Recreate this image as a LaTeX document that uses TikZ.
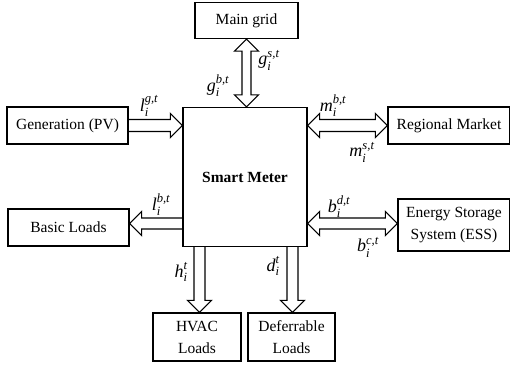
\documentclass[tikz,border=0pt]{standalone}
\usepackage{amsmath}
\usepackage{fontspec}
\setmainfont{Liberation Serif}
\usetikzlibrary{calc}
\newcommand\lbl[3]{$\textit{#1}_{\textit{#2}}^{\textit{#3}}$}
% hollow block arrow from #1 to #2, shaft half width #3
\newcommand\harrow[3]{%
  \path coordinate (hb) at ($(#2)!12pt!(#1)$);
  \draw[arr] ($(#1)!#3!90:(#2)$) -- ($(hb)!#3!90:(#2)$) -- ($(hb)!12pt!90:(#2)$) -- (#2)
    -- ($(hb)!12pt!-90:(#2)$) -- ($(hb)!#3!-90:(#2)$) -- ($(#1)!#3!-90:(#2)$);}
% hollow double-headed block arrow between #1 and #2
\newcommand\hdarrow[3]{%
  \path coordinate (hb) at ($(#2)!12pt!(#1)$) coordinate (ha) at ($(#1)!12pt!(#2)$);
  \draw[arr] ($(ha)!#3!90:(#2)$) -- ($(hb)!#3!90:(#2)$) -- ($(hb)!12pt!90:(#2)$) -- (#2)
    -- ($(hb)!12pt!-90:(#2)$) -- ($(hb)!#3!-90:(#2)$) -- ($(ha)!#3!-90:(#2)$)
    -- ($(ha)!12pt!-90:(#2)$) -- (#1) -- ($(ha)!12pt!90:(#2)$) -- cycle;}
\begin{document}
\begin{tikzpicture}[x=1pt,y=-1pt,
  box/.style={draw, line width=1.2pt, inner sep=0pt, align=center,
    font=\fontsize{15.5}{22}\selectfont},
  arr/.style={draw, line width=1.1pt, line join=miter},
  lab/.style={inner sep=0pt, font=\fontsize{18}{20}\selectfont}]
\useasboundingbox (0,0) rectangle (510,370);
\node[box, minimum width=103pt, minimum height=36pt] (main) at (246.5,20.5) {Main grid};
\node[box, minimum width=124pt, minimum height=139pt, font=\fontsize{15.5}{17}\selectfont\bfseries] (sm) at (245,177) {Smart Meter};
\node[box, minimum width=121pt, minimum height=37pt] (gen) at (67.5,125.5) {Generation (PV)};
\node[box, minimum width=122pt, minimum height=37pt] (rm) at (449,125.5) {Regional Market};
\node[box, minimum width=121pt, minimum height=37pt] (bl) at (68.5,227.5) {Basic Loads};
\node[box, minimum width=112pt, minimum height=52pt] (ess) at (454,225) {Energy Storage\\System (ESS)};
\node[box, minimum width=88pt, minimum height=48pt] (hvac) at (197,337) {HVAC\\Loads};
\node[box, minimum width=87pt, minimum height=48pt] (def) at (291.5,337) {Deferrable\\Loads};
% connector end points
\coordinate (mgS) at (main.south);
\coordinate (smN) at (main.south |- sm.north);
\coordinate (genE) at (gen.east);
\coordinate (smW1) at (gen.east -| sm.west);
\coordinate (rmW) at (rm.west);
\coordinate (smE1) at (rm.west -| sm.east);
\coordinate (blE) at ($(bl.east)+(0,-4)$);
\coordinate (smW2) at (blE -| sm.west);
\coordinate (essW) at (ess.west |- blE);
\coordinate (smE2) at (blE -| sm.east);
\coordinate (hvN) at ($(hvac.north)+(2.5,0)$);
\coordinate (smS1) at (hvN |- sm.south);
\coordinate (dfN) at ($(def.north)+(1,0)$);
\coordinate (smS2) at (dfN |- sm.south);
\hdarrow{mgS}{smN}{4.5pt}
\harrow{genE}{smW1}{6pt}
\hdarrow{smE1}{rmW}{6pt}
\harrow{smW2}{blE}{5.5pt}
\hdarrow{smE2}{essW}{5.5pt}
\harrow{smS1}{hvN}{5.5pt}
\harrow{smS2}{dfN}{5.5pt}
% labels
\node[lab] (lgs) at (269,60) {\lbl{g}{i}{s,t}};
\node[lab] (lgb) at (218,86) {\lbl{g}{i}{b,t}};
\node[lab] (llg) at (149,106) {\lbl{l}{i}{g,t}};
\node[lab] (lmb) at (333,106) {\lbl{m}{i}{b,t}};
\node[lab] (lms) at (362,152) {\lbl{m}{i}{s,t}};
\node[lab] (llb) at (161,205) {\lbl{l}{i}{b,t}};
\node[lab] (lbd) at (339,207) {\lbl{b}{i}{d,t}};
\node[lab] (lbc) at (368,247) {\lbl{b}{i}{c,t}};
\node[lab] (lh) at (181,272) {\lbl{h}{i}{t}};
\node[lab] (ld) at (273,266) {\lbl{d}{i}{t}};
\end{tikzpicture}
\end{document}
